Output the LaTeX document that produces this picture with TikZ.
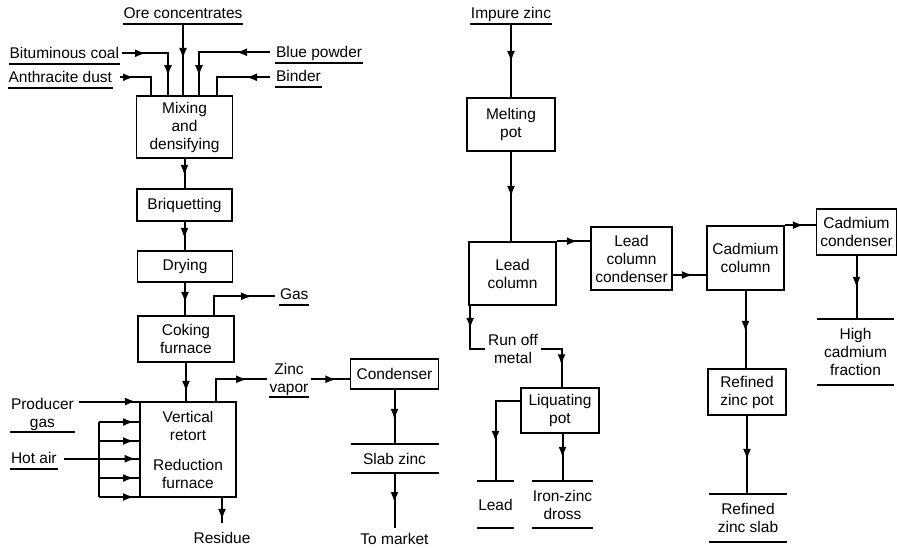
\documentclass[tikz,border=0pt]{standalone}
\usepackage{fontspec}
\setmainfont{Liberation Sans}
\usetikzlibrary{arrows.meta,decorations.markings}
\begin{document}
\begin{tikzpicture}[x=1pt,y=-1pt,
  font=\fontsize{15.5}{18}\selectfont,
  line width=2pt,
  bx/.style={draw, line width=1.7pt, inner sep=0pt, align=center},
  tb/.style={inner sep=0pt, align=center},
  lbl/.style={inner xsep=0pt, inner ysep=0.5pt, text height=11pt, text depth=3.5pt},
  ml/.style={align=center, inner xsep=0pt, inner ysep=0.5pt},
  ul/.style={line width=1.5pt},
  ah/.style={postaction={decorate,decoration={markings,mark=at position #1 with {\arrow{Latex[length=11pt,width=8pt]}}}}}
]
\fill[white] (0,0) rectangle (898,548);
\useasboundingbox (0,0) rectangle (898,548);

% ---------- left process ----------
\node[bx, minimum width=96pt, minimum height=62pt] (mix) at (184.5,127) {Mixing\\and\\densifying};
\node[bx, minimum width=95pt, minimum height=32pt] (briq) at (184.5,205) {Briquetting};
\node[bx, minimum width=95pt, minimum height=31pt] (dry) at (185,266.5) {Drying};
\node[bx, minimum width=96pt, minimum height=46pt] (coke) at (186,339) {Coking\\furnace};
\node[bx, minimum width=96pt, minimum height=95pt] (retort) at (188,449.5) {Vertical\\retort\\[12pt]Reduction\\furnace};
\node[bx, minimum width=88pt, minimum height=30pt] (cond) at (394.5,374) {Condenser};
\node[tb, minimum width=86pt, minimum height=27pt] (slab) at (394.5,458.5) {Slab zinc};

\node[lbl, anchor=south] (ore) at (183,24) {Ore concentrates};
\node[lbl, anchor=south east] (bit) at (120,64) {Bituminous coal};
\node[lbl, anchor=south east] (anth) at (113,88) {Anthracite dust};
\node[lbl, anchor=south west] (blue) at (275,63) {Blue powder};
\node[lbl, anchor=south west] (bind) at (275,87) {Binder};
\node[lbl, anchor=south west] (gas) at (279,305) {Gas};
\node[ml, anchor=south] (zv) at (289,397) {Zinc\\vapor};
\node[ml, anchor=south west] (pg) at (10,432) {Producer\\gas};
\node[lbl, anchor=south west] (hot) at (10,469) {Hot air};
\node[lbl, anchor=north] (res) at (222,531) {Residue};
\node[lbl, anchor=north] (market) at (394.5,532) {To market};

% ---------- right process ----------
\node[lbl, anchor=south] (imp) at (511,24) {Impure zinc};
\node[bx, minimum width=88pt, minimum height=53pt] (melt) at (511,124.5) {Melting\\pot};
\node[bx, minimum width=87pt, minimum height=63pt] (leadcol) at (512.5,273.5) {Lead\\column};
\node[bx, minimum width=81pt, minimum height=63pt] (lcc) at (631.5,258.5) {Lead\\column\\condenser};
\node[bx, minimum width=77pt, minimum height=64pt] (cadcol) at (745.5,258) {Cadmium\\column};
\node[bx, minimum width=80pt, minimum height=46pt] (cadcond) at (856.5,232) {Cadmium\\condenser};
\node[bx, minimum width=78pt, minimum height=45pt] (liq) at (560,410.5) {Liquating\\pot};
\node[bx, minimum width=78pt, minimum height=46pt] (rzp) at (747,392) {Refined\\zinc pot};
\node[align=center, inner sep=0pt] (ro) at (513,349) {Run off\\metal};

\node[tb, minimum width=75pt, minimum height=64pt] (hcf) at (855.5,352) {High\\cadmium\\fraction};
\node[tb, minimum width=76pt, minimum height=46pt] (rzs) at (748,518) {Refined\\zinc slab};
\node[tb, minimum width=33pt, minimum height=45pt] (lead) at (495.5,504.5) {Lead};
\node[tb, minimum width=59pt, minimum height=45pt] (izd) at (562.5,504.5) {Iron-zinc\\dross};

% underlines and bars
\foreach \n in {ore,bit,anth,blue,bind,gas,zv,pg,hot,imp}
  \draw[ul] (\n.south west) -- (\n.south east);
\foreach \n in {slab,hcf,rzs,lead,izd} {
  \draw[ul] (\n.north west) -- (\n.north east);
  \draw[ul] (\n.south west) -- (\n.south east);
}

% ---------- left connectors ----------
\draw[ah=35pt] (ore.south) -- (ore.south |- mix.north);
\draw[ah=24pt, ah=69pt] ([xshift=2pt,yshift=2pt]bit.east) -| ([xshift=-16.5pt]mix.north);
\draw[ah=14pt] ([xshift=7pt,yshift=2pt]anth.east) -| ([xshift=-33.5pt]mix.north);
\draw[ah=34pt, ah=95pt] ([xshift=-5pt,yshift=2pt]blue.west) -| ([xshift=14.5pt]mix.north);
\draw[ah=24pt] ([xshift=-5pt,yshift=1pt]bind.west) -| ([xshift=32.5pt]mix.north);

\draw[ah=17pt] (mix.south) -- (mix.south |- briq.north);
\draw[ah=17pt] (briq.south) -- (briq.south |- dry.north);
\draw[ah=20pt] (dry.south) -- (dry.south |- coke.north);
\draw[ah=29pt] (coke.south) -- (coke.south |- retort.north);

\draw[ah=57pt] ([xshift=28pt]coke.north) |- ([xshift=-4pt]gas.west);
\draw[ah=53pt] ([xshift=28pt]retort.north) |- ([xshift=-2pt]zv.west);
\draw[ah=25pt] ([xshift=2pt]zv.east) -- (zv.east -| cond.west);
\draw[ah=30pt] (cond.south) -- (slab.north);
\draw[ah=30pt] (slab.south) -- ([yshift=4pt]market.north);
\draw[ah=22pt] ([xshift=34pt]retort.south) -- ([yshift=8pt]res.north);

\coordinate (pgo) at ([xshift=4pt,yshift=-5pt]pg.north east);
\draw[ah=57pt] (pgo) -- (pgo -| retort.west);
\coordinate (hao) at ([xshift=6pt,yshift=1.5pt]hot.east);
\draw[ah=72pt] (hao) -- (hao -| retort.west);
\coordinate (mt) at (99,422);
\coordinate (mb) at (99,497);
\draw (mt) -- (mb);
\foreach \yy in {422,441,478,497}
  \draw[ah=35pt] (99,\yy) -- (retort.west |- 0,\yy);

% ---------- right connectors ----------
\draw[ah=38pt] (imp.south) -- (imp.south |- melt.north);
\draw[ah=45pt] (melt.south) -- (melt.south |- leadcol.north);
\draw[ah=21pt] (leadcol.north east) -- (leadcol.north east -| lcc.west);
\coordinate (lco) at ([yshift=-16.5pt]lcc.east);
\draw[ah=20pt] (lco) -- (lco -| cadcol.west);
\draw[ah=19pt] (cadcol.north east) -- (cadcol.north east -| cadcond.west);
\draw[ah=32pt] (cadcond.south) -- (cadcond.south |- hcf.north);
\draw[ah=41pt] (cadcol.south) -- (cadcol.south |- rzp.north);
\draw[ah=44pt] (rzp.south) -- (rzp.south |- rzs.north);

\coordinate (lcs) at ([xshift=2pt]leadcol.south west);
\draw[ah=23pt] (lcs) |- ([xshift=-2pt]ro.west);
\draw[ah=37pt] ([xshift=2pt]ro.east) -| ([xshift=1.5pt]liq.north);
\coordinate (lqw) at ([yshift=9pt]liq.west);
\draw[ah=65pt] (lqw) -| (lead.north);
\draw[ah=24pt] (izd.north |- liq.south) -- (izd.north);
\end{tikzpicture}
\end{document}
